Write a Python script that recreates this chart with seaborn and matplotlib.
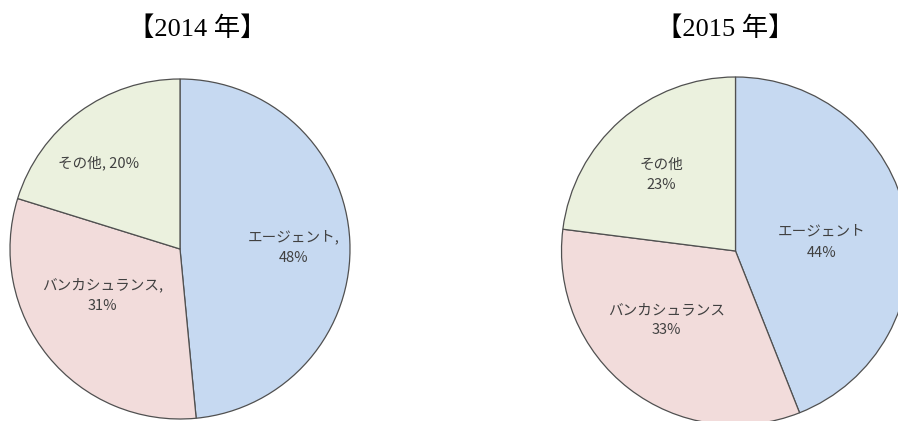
import numpy as np
import seaborn as sns
from matplotlib import pyplot as plt

# data
categories = ["エージェント", "バンカシュランス", "その他"]
share_2014 = [48, 31, 20]
share_2015 = [44, 33, 23]
titles = ["【2014 年】", "【2015 年】"]

colors = ["#C6D9F1", "#F2DCDB", "#EBF1DE"]

sns.set_theme(style="white")
plt.rcParams['font.family'] = ['Noto Sans CJK JP', 'DejaVu Sans']

W, H = 898, 421
fig = plt.figure(figsize=(W / 100, H / 100), dpi=100)


def add_pie(cx, cy, r, values, fmt, dists, nudges):
    # axes placed in pixel space so that radius 1 == r pixels
    ax = fig.add_axes([(cx - r) / W, (H - cy - r) / H, 2 * r / W, 2 * r / H])
    wedges, _ = ax.pie(values, colors=colors, startangle=90, counterclock=False,
                       wedgeprops=dict(edgecolor="#505050", linewidth=0.9))
    for w, name, v, d, n in zip(wedges, categories, values, dists, nudges):
        ang = np.deg2rad((w.theta1 + w.theta2) / 2 + n)
        ax.text(d * np.cos(ang), d * np.sin(ang), fmt(name, v),
                ha="center", va="center", fontsize=10.5, color="#404040",
                linespacing=1.6)
    ax.set_xlim(-1, 1)
    ax.set_ylim(-1, 1)
    ax.axis("off")
    return ax


fmt14 = lambda n, v: f"{n}, {v}%" if n == "その他" else f"{n},\n{v}%"
fmt15 = lambda n, v: f"{n}\n{v}%"

add_pie(180, 249, 170, share_2014, fmt14, [0.67, 0.53, 0.70], [-2, -8, 7])
add_pie(735.5, 251, 174, share_2015, fmt15, [0.50, 0.56, 0.61], [-5, -7, 3])

for x, t in zip([197, 725], titles):
    fig.text(x / W, 1 - 29 / H, t, ha="center", va="center", fontsize=19,
             family=['Liberation Serif', 'Noto Sans CJK JP'], color="black")

plt.savefig("out.png", dpi=100)
